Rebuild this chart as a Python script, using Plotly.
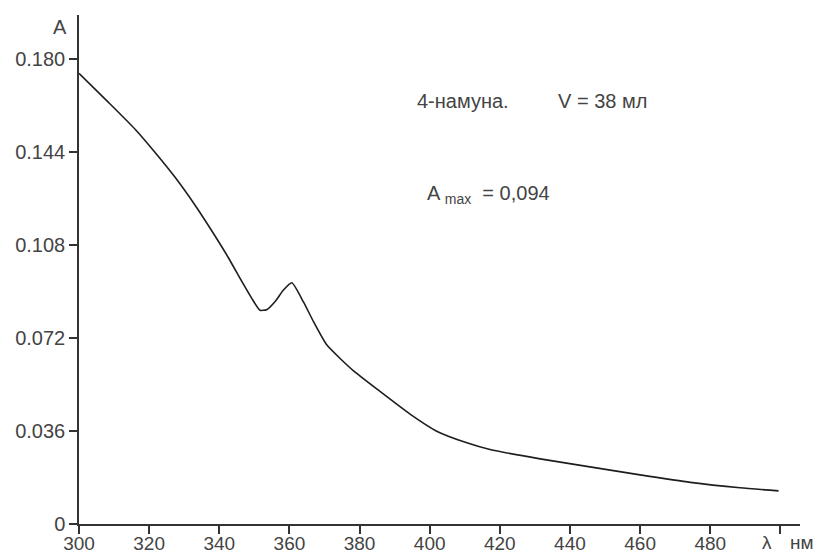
import plotly.graph_objects as go

# Wavelength (nm) and absorbance
wavelength = [300, 308.4, 316, 321.7, 327.4, 333.1, 338.8, 342.6, 346.4, 349.3, 351.6,
              353.5, 356.0, 358.3, 360.7, 364.0, 366.9, 370.7, 378.3, 385.9, 394.4, 402.0,
              410.6, 417.2, 431.5, 445.7, 460.0, 474.3, 488.5, 499.5]
absorbance = [0.1743, 0.1631, 0.1527, 0.1437, 0.1341, 0.1233, 0.1114, 0.1030, 0.0939, 0.0872, 0.0827,
              0.0829, 0.0862, 0.0905, 0.0933, 0.0859, 0.0782, 0.0692, 0.0592, 0.0512, 0.0425, 0.0359,
              0.0314, 0.0288, 0.0252, 0.0221, 0.0190, 0.0161, 0.0140, 0.0128]

x_ticks = [300, 320, 340, 360, 380, 400, 420, 440, 460, 480, 500]
x_ticktext = ["300", "320", "340", "360", "380", "400", "420", "440", "460", "480", ""]
y_ticks = [0, 0.036, 0.072, 0.108, 0.144, 0.180]
y_ticktext = ["0", "0.036", "0.072", "0.108", "0.144", "0.180"]

FONT = "Liberation Sans, Arial, sans-serif"
TXT = "#444444"
AX = "#333333"
FS = 20
FSX = 19

fig = go.Figure()
fig.add_trace(go.Scatter(
    x=wavelength, y=absorbance, mode="lines",
    line=dict(color="#1e1e1e", width=1.6, shape="spline", smoothing=0.5),
    hoverinfo="skip", showlegend=False))

fig.update_layout(
    width=814, height=554,
    margin=dict(l=79, r=14, t=15, b=30, autoexpand=False),
    paper_bgcolor="white", plot_bgcolor="white",
    font=dict(family=FONT, size=FS, color=TXT),
    showlegend=False,
)
fig.update_xaxes(
    range=[300, 505.6], tickvals=x_ticks, ticktext=x_ticktext,
    showline=True, linecolor=AX, linewidth=1.5,
    ticks="outside", ticklen=8, tickwidth=1.5, tickcolor=AX,
    showgrid=False, zeroline=False, automargin=False,
    ticklabelstandoff=-7,
    tickfont=dict(family=FONT, size=FSX, color=TXT),
)
fig.update_yaxes(
    range=[0, 0.1969], tickvals=y_ticks, ticktext=y_ticktext,
    showline=True, linecolor=AX, linewidth=1.5,
    ticks="outside", ticklen=8, tickwidth=1.5, tickcolor=AX,
    showgrid=False, zeroline=False, automargin=False,
    tickfont=dict(family=FONT, size=FS, color=TXT),
)

annos = [
    dict(text="4-намуна.", x=395.8, y=0.1636, xref="x", yref="y", xanchor="left", yanchor="middle", size=FS),
    dict(text="V = 38 мл", x=436.0, y=0.1636, xref="x", yref="y", xanchor="left", yanchor="middle", size=FS),
    dict(text="A <sub>max</sub>  = 0,094", x=398.7, y=0.1273, xref="x", yref="y", xanchor="left", yanchor="middle", size=FS),
    dict(text="A", x=-0.026, y=0.976, xref="paper", yref="paper", xanchor="center", yanchor="middle", size=FS),
    dict(text="λ", x=(767 - 79) / 721, y=(524 - 542) / 509, xref="paper", yref="paper", xanchor="center", yanchor="middle", size=FSX),
    dict(text="нм", x=(788 - 79) / 721, y=(524 - 542) / 509, xref="paper", yref="paper", xanchor="left", yanchor="middle", size=FSX),
]
for a in annos:
    size = a.pop("size")
    a.update(showarrow=False, font=dict(family=FONT, size=size, color=TXT))
    fig.add_annotation(**a)

fig.write_html("out.html")
